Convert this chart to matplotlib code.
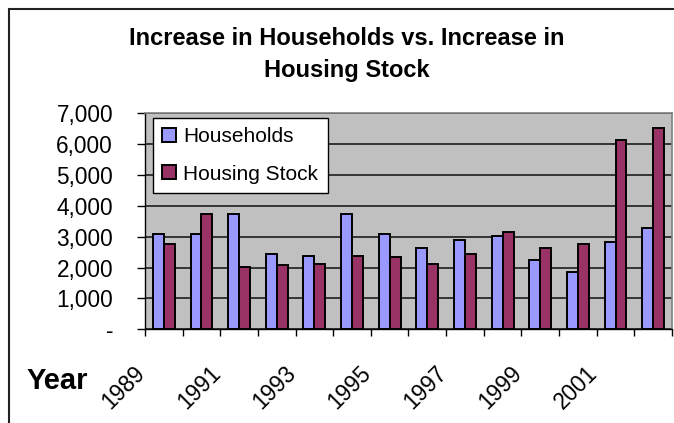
import numpy as np
import matplotlib
matplotlib.use("Agg")
import matplotlib.pyplot as plt
from matplotlib.patches import Rectangle
from matplotlib.transforms import ScaledTranslation

plt.rcParams['font.family'] = ['Liberation Sans', 'DejaVu Sans']

years = list(range(1989, 2003))
households = [3080, 3080, 3730, 2440, 2370, 3730, 3095, 2640, 2900, 3030, 2255, 1855, 2835, 3290]
housing_stock = [2770, 3730, 2015, 2070, 2125, 2385, 2330, 2125, 2450, 3160, 2640, 2760, 6115, 6515]
ytick_vals = [0, 1000, 2000, 3000, 4000, 5000, 6000, 7000]
ytick_labels = ['-', '1,000', '2,000', '3,000', '4,000', '5,000', '6,000', '7,000']

W, H = 674, 423
fig = plt.figure(figsize=(W / 100, H / 100), dpi=100)
ax = fig.add_axes([145 / W, 1 - 329.3 / H, (672 - 145) / W, (329.3 - 113) / H])

x = np.arange(len(years))
bw = 0.29
ax.bar(x - bw / 2, households, bw, color='#9999FF', edgecolor='black', linewidth=1.4,
       label='Households', zorder=3)
ax.bar(x + bw / 2, housing_stock, bw, color='#993366', edgecolor='black', linewidth=1.4,
       label='Housing Stock', zorder=3)

ax.set_facecolor('#C0C0C0')
ax.set_xlim(-0.5, len(years) - 0.5)
ax.set_ylim(0, 7000)

# gridlines
ax.set_yticks(ytick_vals, ytick_labels)
ax.yaxis.grid(True, color='#2a2a2a', linewidth=1.3, zorder=1)
ax.set_axisbelow(True)
ax.tick_params(axis='y', length=6, width=1, direction='out', pad=17, labelsize=16.3)

# tick marks between categories, labels drawn separately
ax.set_xticks(np.arange(len(years) + 1) - 0.5, minor=True)
ax.set_xticks([])
ax.tick_params(axis='x', which='minor', length=5, width=1, direction='out')

for s in ['top', 'right']:
    ax.spines[s].set_color('#808080')
    ax.spines[s].set_linewidth(1.2)
for s in ['left', 'bottom']:
    ax.spines[s].set_color('black')
    ax.spines[s].set_linewidth(1)

off = ScaledTranslation(-0.22, -0.40, fig.dpi_scale_trans)
for i in range(0, len(years), 2):
    ax.text(x[i], 0, str(years[i]), transform=ax.get_xaxis_transform() + off,
            rotation=45, rotation_mode='anchor', ha='right', va='center', fontsize=16.3)

fig.text(27 / W, 1 - 389 / H, 'Year', fontsize=21, fontweight='bold', ha='left', va='baseline')

fig.text(347 / W, 1 - 45 / H, 'Increase in Households vs. Increase in',
         fontsize=17, fontweight='bold', ha='center', va='baseline')
fig.text(347 / W, 1 - 77 / H, 'Housing Stock',
         fontsize=17, fontweight='bold', ha='center', va='baseline')

leg = ax.legend(loc='upper left', bbox_to_anchor=(8 / 527, 1 - 5 / 216.3), borderaxespad=0,
                fancybox=False, framealpha=1, edgecolor='black', fontsize=15,
                handlelength=0.65, handleheight=0.65, handletextpad=0.35,
                labelspacing=0.88, borderpad=0.45)
leg.get_frame().set_linewidth(1)
leg.set_zorder(5)

# outer chart border (runs off the right and bottom edges)
fig.patches.append(Rectangle((9 / W, -0.1), 1.2, 1.1 - 9 / H, transform=fig.transFigure,
                             fill=False, edgecolor='#222222', linewidth=1.5))

fig.savefig('out.png', dpi=100)
